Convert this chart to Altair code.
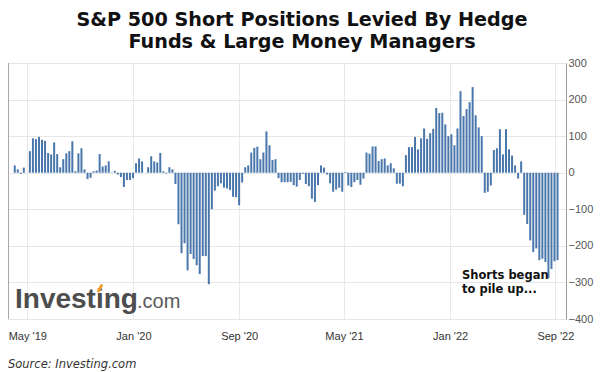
import altair as alt
import pandas as pd

# Weekly net positions (contracts, thousands)
values = [
    20, 9, -3, 14, 0, 59, 94, 92, 98, 90,
    87, 54, 50, 83, 51, 15, 37, 53, 59, 86,
    4, 53, 67, 9, -17, -14, 4, 6, 51, 17,
    20, 31, 1, 5, -5, -12, -39, -20, -20, -15,
    26, 39, 31, 0, 15, 45, 31, 28, 54, 4,
    -2, 15, 9, -31, -141, -220, -193, -267, -222, -236,
    -253, -277, -228, -228, -305, -100, -49, -37, -29, -41,
    -43, -47, -66, -67, -89, -27, 15, 20, 55, 68,
    71, 37, 55, 113, 75, 35, 37, -15, -26, -26,
    -26, -25, -34, -38, -20, -3, -31, -37, -71, -80,
    -34, 20, 14, -5, -29, -52, -46, -41, -52, 2,
    -35, -39, -26, -20, -33, -16, 55, 52, 72, 72,
    32, 37, 39, 20, 26, 12, -30, -30, -37, 48,
    70, 70, 98, 64, 94, 121, 93, 108, 120, 177,
    163, 164, 132, 100, 105, 75, 121, 223, 155, 174,
    193, 234, 157, 124, 100, -55, -52, -35, 62, 67,
    119, 50, 119, 64, 47, 20, -16, 31, -115, -140,
    -185, -217, -207, -239, -235, -244, -288, -263, -242, -239,
]
start_date = "2019-04-02"
dates = pd.date_range(start_date, periods=len(values), freq="7D")

x_tick_dates = [(2019, 5), (2020, 1), (2020, 9), (2021, 5), (2022, 1), (2022, 9)]
y_ticks = [300, 200, 100, 0, -100, -200, -300, -400]

title_lines = ["S&P 500 Short Positions Levied By Hedge", "Funds & Large Money Managers"]
note_lines = ["Shorts began", "to pile up..."]
logo_main = "Investing"
logo_suffix = ".com"
source_text = "Source: Investing.com"

df = pd.DataFrame({"date": dates, "value": values})

W, H = 558, 256

x_values = [alt.DateTime(year=y, month=m, date=1) for y, m in x_tick_dates]

bars = alt.Chart(df).mark_bar(size=2, color="#4a77ab").encode(
    x=alt.X(
        "date:T",
        scale=alt.Scale(domain=[alt.DateTime(year=2019, month=3, date=29),
                                alt.DateTime(year=2022, month=9, date=14)]),
        axis=alt.Axis(
            values=x_values, format="%b '%y", title=None, grid=True,
            gridColor="#e8e8e8", ticks=False, domain=False, labelPadding=11,
            labelColor="#333333", labelFont="Liberation Sans", labelFontSize=11,
            labelFlush=False, labelOverlap=False,
        ),
    ),
    y=alt.Y(
        "value:Q",
        scale=alt.Scale(domain=[-400, 300], nice=False, zero=False),
        axis=alt.Axis(
            orient="right", values=y_ticks, title=None, grid=True,
            gridColor="#e6e6e6", ticks=False, domain=True, domainColor="#9a9a9a",
            labelAlign="left", labelPadding=2, labelColor="#555555",
            labelFont="Liberation Sans", labelFontSize=11, labelFlush=False,
            labelOverlap=False,
        ),
    ),
)

left_rule = alt.Chart(pd.DataFrame({"k": [0]})).mark_rule(color="#a8a8a8").encode(
    x=alt.value(0.5), y=alt.value(0), y2=alt.value(H)
)


def single_text(txt, x, y, **kw):
    d = pd.DataFrame({"t": [txt]})
    return alt.Chart(d).mark_text(**kw).encode(
        text="t:N", x=alt.value(x), y=alt.value(y)
    )


title1 = single_text(title_lines[0], 294, -43.5, font="DejaVu Sans", fontWeight="bold",
                     fontSize=19.2, color="#111111", align="center", baseline="middle")
title2 = single_text(title_lines[1], 294, -21.5, font="DejaVu Sans", fontWeight="bold",
                     fontSize=19.2, color="#111111", align="center", baseline="middle")
note1 = single_text(note_lines[0], 454, 212.5, font="DejaVu Sans", fontWeight="bold",
                    fontSize=11.5, color="#111111", align="left", baseline="middle")
note2 = single_text(note_lines[1], 454, 226.5, font="DejaVu Sans", fontWeight="bold",
                    fontSize=11.5, color="#111111", align="left", baseline="middle")
logo1 = single_text(logo_main, 7, 245, font="Liberation Sans", fontWeight="bold",
                    fontSize=28, color="#4d4d4d", align="left", baseline="alphabetic")
logo2 = single_text(logo_suffix, 129, 245, font="Liberation Sans", fontWeight="normal",
                    fontSize=20, color="#5a5a5a", align="left", baseline="alphabetic")
logo_accent = alt.Chart(pd.DataFrame({"k": [0]})).mark_rule(
    color="#f2a033", strokeWidth=3, strokeCap="round"
).encode(x=alt.value(90.5), x2=alt.value(93.5), y=alt.value(228), y2=alt.value(222.5))
source = single_text(source_text, 0, 302, font="DejaVu Sans", fontStyle="italic",
                     fontSize=11.5, color="#333333", align="left", baseline="middle")

chart = alt.layer(
    bars, left_rule, title1, title2, note1, note2, logo1, logo2, logo_accent, source
).properties(
    width=W,
    height=H,
    padding={"left": 0, "top": 55, "right": 30, "bottom": 52},
    autosize=alt.AutoSizeParams(type="none"),
    background="white",
).configure_view(stroke="#d6d6d6")

chart.save("out.html", embed_options={"renderer": "svg", "actions": False})
